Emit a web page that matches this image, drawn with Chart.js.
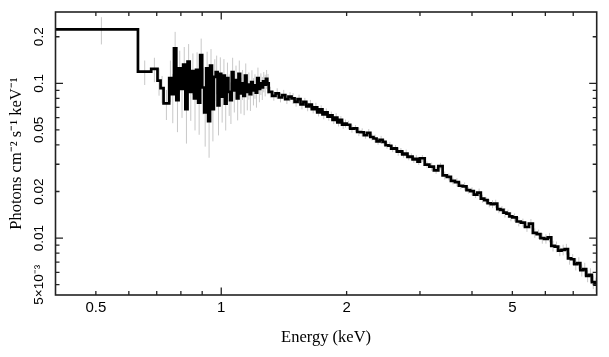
<!DOCTYPE html>
<html>
<head>
<meta charset="utf-8">
<script src="https://cdn.jsdelivr.net/npm/chart.js@4.4.1/dist/chart.umd.min.js"></script>
<style>
html,body{margin:0;padding:0;background:#fff;}
canvas{display:block;}
</style>
</head>
<body>
<canvas id="c" width="609" height="357"></canvas>
<script>
// Bin left edges (keV); the last entry closes the final bin
const edges = [0.40, 0.631, 0.679, 0.703, 0.715, 0.727,
  0.75,0.76,0.77,0.78,0.79,0.80,0.81,0.82,0.83,0.84,0.85,0.86,0.87,0.88,0.89,0.90,0.91,0.92,0.93,0.94,0.95,0.96,0.97,0.98,0.99,
  1.00,1.01,1.02,1.03,1.04,1.05,1.06,1.07,1.08,1.09,1.10,1.11,1.12,1.13,1.14,1.15,1.16,1.17,1.18,1.19,1.20,1.21,1.22,1.23,1.24,1.25,1.26,1.27,1.28,1.29,
  1.300,1.325,1.350,1.375,1.400,1.425,1.450,1.475,1.500,1.525,1.550,1.575,1.600,1.625,1.650,1.675,1.700,1.725,1.750,1.775,1.800,1.825,1.850,1.875,1.900,1.925,1.950,1.975,
  2.00,2.04,2.08,2.12,2.16,2.20,2.24,2.28,2.32,2.36,2.40,2.44,2.48,2.52,2.56,2.60,2.64,2.68,2.72,2.76,2.80,2.84,2.88,2.92,2.96,
  3.00,3.08,3.16,3.24,3.32,3.40,3.48,3.56,3.64,3.72,3.80,3.88,3.96,4.04,4.12,4.20,4.28,4.36,4.44,4.52,4.60,4.68,4.76,4.84,4.92,
  5.00,5.12,5.24,5.36,5.48,5.60,5.72,5.84,5.96,6.08,6.20,6.32,6.44,6.56,6.68,6.80,6.92,7.04,7.16,7.28,7.40,7.52,7.64,7.76,7.88,
  8.00];

// Photons cm^-2 s^-1 keV^-1 per bin
const flux = [0.223, 0.119, 0.124, 0.104, 0.093, 0.0743,
  0.108,0.085,0.168,0.078,0.125,0.092,0.132,0.068,0.138,0.088,
  0.120,0.080,0.122,0.075,0.152,0.094,0.065,0.125,0.057,0.130,
  0.068,0.110,0.118,0.072,0.115,0.082,0.112,0.074,0.108,0.088,
  0.078,0.118,0.090,0.105,0.080,0.115,0.086,0.100,0.083,0.112,
  0.088,0.098,0.085,0.102,0.090,0.097,0.087,0.108,0.092,0.100,
  0.094,0.103,0.098,0.107,0.100,
  0.088,0.083,0.086,0.081,0.084,0.079,0.082,0.080,0.076,0.079,0.073,0.076,0.071,0.073,
  0.068,0.070,0.065,0.068,0.063,0.065,0.061,0.062,0.058,0.060,0.056,0.058,0.054,0.055,
  0.0540,0.0510,0.0512,0.0485,0.0483,0.0462,0.0478,0.0450,0.0440,0.0422,0.0432,0.0418,0.0398,
  0.0395,0.0378,0.0380,0.0362,0.0364,0.0348,0.0352,0.0335,0.0336,0.0322,0.0325,0.0312,
  0.0328,0.0298,0.0290,0.0274,0.0292,0.0254,0.0249,0.0234,0.0230,0.0218,0.0216,0.0204,0.0201,
  0.0191,0.0197,0.0180,0.0176,0.0168,0.0166,0.0167,0.0154,0.0152,0.0146,0.0144,0.0138,
  0.0136,0.0128,0.0126,0.0118,0.0124,0.0108,0.0106,0.0100,0.0099,0.0101,0.0089,0.0088,0.0083,
  0.0084,0.0085,0.0074,0.0073,0.0068,0.0069,0.0062,0.0063,0.0057,0.0058,0.0052,0.0050];

// Relative 1-sigma error per bin
const fluxErr = [0.20, 0.18, 0.18, 0.20, 0.20, 0.22,
  0.30,0.35,0.28,0.38,0.30,0.35,0.30,0.40,0.30,0.35,0.30,0.38,0.30,0.38,0.28,
  0.33,0.40,0.28,0.42,0.28,0.38,0.30,0.28,0.36,0.28,0.32,0.28,0.33,0.26,0.30,
  0.30,0.24,0.28,0.24,0.28,0.22,0.26,0.22,0.25,0.20,0.24,0.20,0.22,0.19,0.20,
  0.18,0.20,0.17,0.18,0.16,0.17,0.15,0.16,0.14,0.15,
  0.08,0.07,0.08,0.07,0.08,0.07,0.07,0.08,0.07,0.07,0.07,0.06,0.07,0.07,
  0.06,0.07,0.06,0.06,0.07,0.06,0.06,0.06,0.06,0.07,0.06,0.06,0.06,0.06,
  0.06,0.06,0.05,0.06,0.06,0.05,0.06,0.05,0.06,0.05,0.06,0.05,0.05,
  0.06,0.05,0.05,0.06,0.05,0.05,0.06,0.05,0.05,0.05,0.06,0.05,
  0.05,0.05,0.06,0.05,0.05,0.06,0.05,0.05,0.06,0.05,0.06,0.05,0.06,
  0.05,0.06,0.06,0.05,0.06,0.06,0.06,0.06,0.06,0.07,0.06,0.07,
  0.06,0.07,0.06,0.07,0.07,0.07,0.07,0.08,0.07,0.07,0.08,0.08,0.08,
  0.08,0.08,0.09,0.08,0.09,0.09,0.09,0.10,0.09,0.10,0.10,0.11];

const xTickLabels = [0.5, 1, 2, 5];
const yTickLabels = [0.005, 0.01, 0.02, 0.05, 0.1, 0.2];
const xMajorMarks = [1];
const xMinorMarks = [0.5, 0.6, 0.7, 0.8, 0.9, 2, 3, 4, 5, 6, 7];
const yMajorMarks = [0.01, 0.1];
const yMinorMarks = [0.005, 0.006, 0.007, 0.008, 0.009, 0.02, 0.03, 0.04, 0.05, 0.06, 0.07, 0.08, 0.09, 0.2];

// Build datasets
const stepPts = flux.map((v, i) => ({x: edges[i], y: v}));
stepPts.push({x: edges[flux.length], y: flux[flux.length - 1]});

const errPts = [];
flux.forEach((v, i) => {
  const c = (edges[i] + edges[i + 1]) / 2;
  errPts.push({x: c, y: v * (1 - fluxErr[i])});
  errPts.push({x: c, y: v * (1 + fluxErr[i])});
  errPts.push({x: c, y: null});
});

const framePlugin = {
  id: 'frame',
  afterDatasetsDraw(chart) {
    const {ctx, chartArea: a, scales: {x, y}} = chart;
    ctx.save();
    ctx.strokeStyle = '#222';
    ctx.lineWidth = 1.6;
    ctx.strokeRect(a.left, a.top, a.right - a.left, a.bottom - a.top);
    ctx.lineWidth = 1.3;
    ctx.beginPath();
    const xm = (vals, len) => vals.forEach(v => {
      const px = x.getPixelForValue(v);
      ctx.moveTo(px, a.bottom); ctx.lineTo(px, a.bottom - len);
      ctx.moveTo(px, a.top); ctx.lineTo(px, a.top + len);
    });
    const ym = (vals, len) => vals.forEach(v => {
      const py = y.getPixelForValue(v);
      ctx.moveTo(a.left, py); ctx.lineTo(a.left + len, py);
      ctx.moveTo(a.right, py); ctx.lineTo(a.right - len, py);
    });
    xm(xMajorMarks, 7.5); xm(xMinorMarks, 4);
    ym(yMajorMarks, 7.5); ym(yMinorMarks, 4);
    ctx.stroke();
    ctx.restore();
  }
};

const xTickFont = {family: "'Liberation Sans', Arial, sans-serif", size: 15};
const yTickFont = {family: "'Liberation Sans', Arial, sans-serif", size: 13.5};
const titleFont = {family: "'Liberation Serif', 'Times New Roman', serif", size: 16.5};

new Chart(document.getElementById('c'), {
  type: 'line',
  data: {
    datasets: [
      {
        data: errPts, borderColor: '#c8c8c8', borderWidth: 1,
        pointRadius: 0, spanGaps: false, fill: false, order: 2, clip: 0
      },
      {
        data: stepPts, borderColor: '#000', borderWidth: 2.7, stepped: 'before',
        pointRadius: 0, fill: false, order: 1, clip: 0, borderJoinStyle: 'miter'
      }
    ]
  },
  options: {
    responsive: false,
    animation: false,
    devicePixelRatio: 1,
    layout: {padding: {left: 0, top: 12, right: 12.3, bottom: 0}},
    plugins: {legend: {display: false}, tooltip: {enabled: false}},
    scales: {
      x: {
        type: 'logarithmic', min: 0.40, max: 7.97,
        grid: {display: false, drawTicks: false},
        border: {display: false},
        afterBuildTicks: s => { s.ticks = xTickLabels.map(v => ({value: v})); },
        afterFit: s => { s.height = 62; },
        ticks: {font: xTickFont, color: '#000', padding: 4, maxRotation: 0, autoSkip: false,
          callback: v => String(v)},
        title: {display: true, text: 'Energy (keV)', font: titleFont, color: '#000', padding: {top: 0, bottom: 9}}
      },
      y: {
        type: 'logarithmic', min: 0.00429, max: 0.289,
        grid: {display: false, drawTicks: false},
        border: {display: false},
        afterBuildTicks: s => { s.ticks = yTickLabels.map(v => ({value: v})); },
        afterFit: s => { s.width = 55.5; },
        ticks: {font: yTickFont, color: '#000', padding: -3.5, minRotation: 90, maxRotation: 90,
          crossAlign: 'center', autoSkip: false,
          callback: v => (v === 0.005 ? '5×10⁻³' : String(v))},
        title: {display: true, text: 'Photons cm⁻² s⁻¹ keV⁻¹', font: titleFont, color: '#000', padding: {top: 7.2, bottom: 0}}
      }
    }
  },
  plugins: [framePlugin]
});
</script>
</body>
</html>
